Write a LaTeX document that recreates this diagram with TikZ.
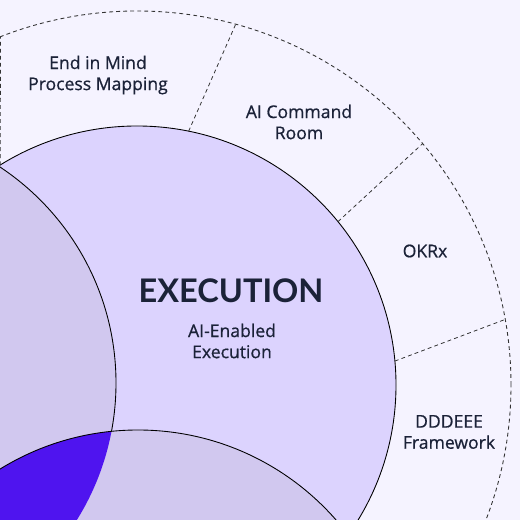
\documentclass[tikz,border=0pt]{standalone}
\usepackage{fontspec}
\setmainfont{Lato}
\newfontfamily\practicefont[FakeBold=0.7]{Open Sans}
\usepackage{tikz}
\usetikzlibrary{calc, positioning}
\definecolor{pagebg}{HTML}{F5F3FF}
\definecolor{execfill}{HTML}{DCD3FE}
\definecolor{sidefill}{HTML}{D1C8EF}
\definecolor{corefill}{HTML}{4F14EF}
\definecolor{ink}{HTML}{1B2238}
\tikzset{venn/.style={draw=black,line width=0.5pt},
         ring/.style={draw=black!80,line width=0.5pt,dash pattern=on 2.2pt off 1.8pt},
         divider/.style={draw=black!80,line width=0.45pt,dash pattern=on 2.2pt off 1.8pt},
         practice/.style={align=center,text=ink,font=\practicefont\fontsize{10}{12}\selectfont},
         heading/.style={text=ink,font=\bfseries\fontsize{18.5}{22}\selectfont}}

\begin{document}
\begin{tikzpicture}
    % Page
    \fill[pagebg] (0,0) rectangle (10.4,10.4);
    \useasboundingbox (0,0) rectangle (10.4,10.4);
    \clip (0,0) rectangle (10.4,10.4);
    % Circle centres
    \coordinate (exec) at (2.74,2.70);
    \coordinate (left) at (-2.86,2.74);
    \coordinate (bottom) at (2.76,-3.46);
    % Outer ring
    \draw[ring] (exec) circle [radius=7.48];
    % Venn circles
    \draw[venn, fill=execfill] (exec) circle [radius=5.18];
    \draw[venn, fill=sidefill] (left) circle [radius=5.18];
    \fill[sidefill] (bottom) circle [radius=5.26];
    \begin{scope}
      \clip (left) circle [radius=5.18];
      \fill[corefill] (bottom) circle [radius=5.26];
    \end{scope}
    \draw[venn] (bottom) circle [radius=5.26];
    % Ring dividers
    \draw[divider] ($(exec)+(121.9:5.18)$) -- ($(exec)+(111.4:7.48)$);
    \draw[divider] ($(exec)+(78.5:5.18)$) -- ($(exec)+(74.7:7.48)$);
    \draw[divider] ($(exec)+(39.1:5.18)$) -- ($(exec)+(40.2:7.48)$);
    \draw[divider] ($(exec)+(5.3:5.18)$) -- ($(exec)+(10.1:7.48)$);
    % Practices in the ring
    \node (mapping) [practice] at (1.96,8.90) {End in Mind\\Process Mapping};
    \node (command) [practice] at (5.98,7.96) {AI Command\\Room};
    \node (okrx) [practice] at (8.50,5.38) {OKRx};
    \node (dddeee) [practice] at (8.98,1.76) {DDDEEE\\Framework};
    % Circle title
    \node (title) [heading] at (4.62,4.58) {EXECUTION};
    \node (subtitle) [practice] at (4.64,3.58) {AI-Enabled\\Execution};
\end{tikzpicture}
\end{document}
